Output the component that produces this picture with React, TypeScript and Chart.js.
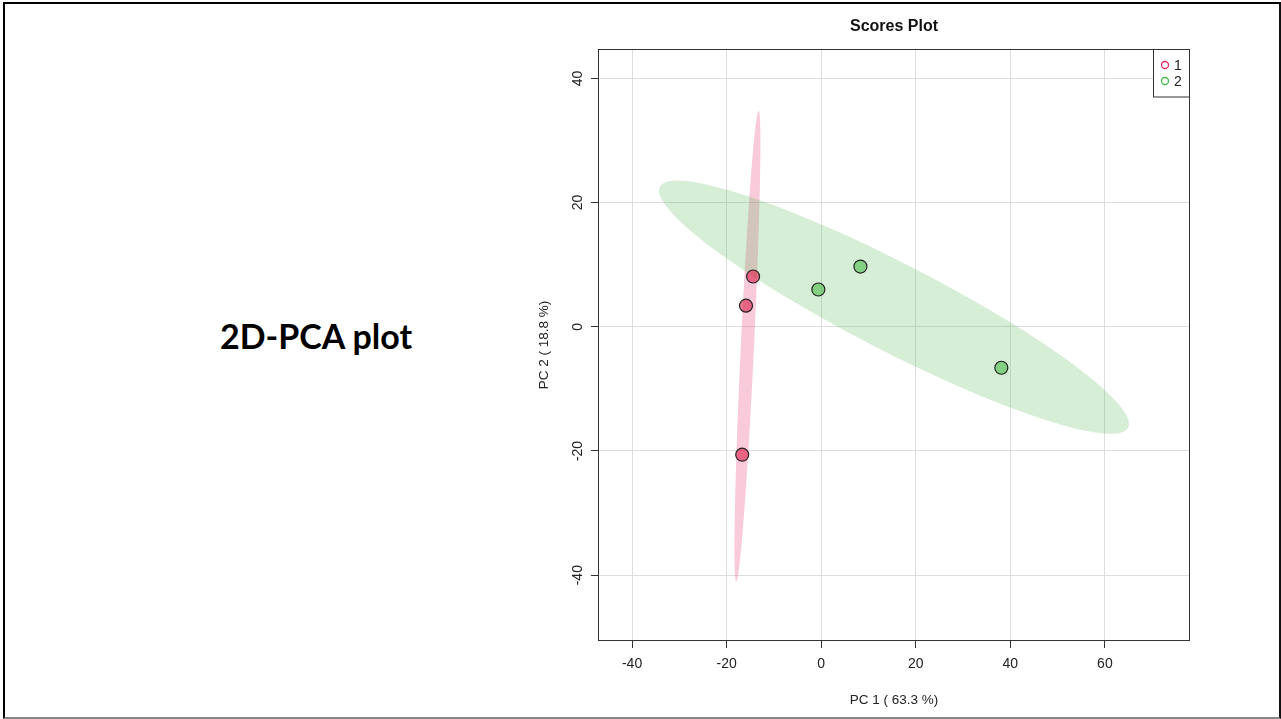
import React, { useEffect, useRef } from "react";
import { Chart, registerables } from "chart.js";

Chart.register(...registerables);

// ---- data ----
const group1Label = "1";
const group2Label = "2";
const group1X = [-14.4, -15.9, -16.7];
const group1Y = [8.1, 3.4, -20.6];
const group2X = [-0.6, 8.3, 38.1];
const group2Y = [6.0, 9.7, -6.6];

const xTicks = [-40, -20, 0, 20, 40, 60];
const yTicks = [-40, -20, 0, 20, 40];
const xRange = [-47.2, 78];
const yRange = [-50.6, 44.7];

// confidence ellipses: centre and two conjugate semi-diameters (data units)
const ellipse1Center = [-15.6, -3.1];
const ellipse1AxisA = [2.37, 37.9];
const ellipse1AxisB = [1.4, 0];
const ellipse2Center = [15.4, 3.15];
const ellipse2AxisA = [49.7, -18.8];
const ellipse2AxisB = [0, 7.9];

const chartTitle = "Scores Plot";
const xTitle = "PC 1 ( 63.3 %)";
const yTitle = "PC 2 ( 18.8 %)";
const slideTitle = "2D-PCA plot";

const FONT = "'Liberation Sans', Arial, Helvetica, sans-serif";

const ellipsePlugin = {
  id: "ellipses",
  beforeDatasetsDraw(chart: any) {
    const { ctx, chartArea } = chart;
    const xs = chart.scales.x;
    const ys = chart.scales.y;
    const list = [
      { c: ellipse1Center, a: ellipse1AxisA, b: ellipse1AxisB, color: "rgba(235,80,130,0.30)" },
      { c: ellipse2Center, a: ellipse2AxisA, b: ellipse2AxisB, color: "rgba(90,185,90,0.25)" },
    ];
    ctx.save();
    ctx.beginPath();
    ctx.rect(chartArea.left, chartArea.top, chartArea.right - chartArea.left, chartArea.bottom - chartArea.top);
    ctx.clip();
    for (const e of list) {
      const cx = xs.getPixelForValue(e.c[0]);
      const cy = ys.getPixelForValue(e.c[1]);
      const ax = xs.getPixelForValue(e.c[0] + e.a[0]) - cx;
      const ay = ys.getPixelForValue(e.c[1] + e.a[1]) - cy;
      const bx = xs.getPixelForValue(e.c[0] + e.b[0]) - cx;
      const by = ys.getPixelForValue(e.c[1] + e.b[1]) - cy;
      ctx.save();
      ctx.beginPath();
      ctx.transform(ax, ay, bx, by, cx, cy);
      ctx.arc(0, 0, 1, 0, Math.PI * 2);
      ctx.restore();
      ctx.fillStyle = e.color;
      ctx.fill();
    }
    ctx.restore();
  },
};

const boxLegendPlugin = {
  id: "boxLegend",
  afterDraw(chart: any) {
    const { ctx, chartArea } = chart;
    ctx.save();
    ctx.strokeStyle = "#333";
    ctx.lineWidth = 1;
    ctx.strokeRect(
      Math.round(chartArea.left) + 0.5,
      Math.round(chartArea.top) + 0.5,
      Math.round(chartArea.right - chartArea.left) - 1,
      Math.round(chartArea.bottom - chartArea.top) - 1
    );
    // legend box
    const r = Math.round(chartArea.right);
    const t = Math.round(chartArea.top);
    ctx.fillStyle = "#fff";
    ctx.fillRect(r - 37, t, 37, 48);
    ctx.strokeRect(r - 37 + 0.5, t + 0.5, 36, 47.5);
    const items = [
      { label: group1Label, color: "#EE2C5E", y: t + 16 },
      { label: group2Label, color: "#40BB45", y: t + 32 },
    ];
    ctx.font = `14px ${FONT}`;
    ctx.textBaseline = "middle";
    ctx.textAlign = "left";
    for (const it of items) {
      ctx.beginPath();
      ctx.arc(r - 25, it.y, 3.5, 0, Math.PI * 2);
      ctx.strokeStyle = it.color;
      ctx.lineWidth = 1.3;
      ctx.stroke();
      ctx.fillStyle = "#222";
      ctx.fillText(it.label, r - 16, it.y + 1);
    }
    ctx.restore();
  },
};

function ScoresChart() {
  const ref = useRef<HTMLCanvasElement | null>(null);
  useEffect(() => {
    if (!ref.current) return;
    Chart.defaults.font.family = FONT;
    const chart = new Chart(ref.current, {
      type: "scatter",
      data: {
        datasets: [
          {
            label: group1Label,
            data: group1X.map((x, i) => ({ x, y: group1Y[i] })),
            backgroundColor: "rgba(220,30,75,0.6)",
            borderColor: "#222",
            borderWidth: 1.2,
            pointRadius: 6.5,
          },
          {
            label: group2Label,
            data: group2X.map((x, i) => ({ x, y: group2Y[i] })),
            backgroundColor: "rgba(50,180,50,0.5)",
            borderColor: "#222",
            borderWidth: 1.2,
            pointRadius: 6.5,
          },
        ],
      },
      options: {
        animation: false,
        responsive: false,
        maintainAspectRatio: false,
        layout: { padding: { left: 0, right: 30, top: 0, bottom: 0 } },
        plugins: {
          legend: { display: false },
          tooltip: { enabled: false },
          title: {
            display: true,
            text: chartTitle,
            fullSize: false,
            color: "#111",
            font: { size: 16, weight: "bold", family: FONT },
            padding: { top: 17, bottom: 13 },
          },
        },
        scales: {
          x: {
            type: "linear",
            min: xRange[0],
            max: xRange[1],
            afterBuildTicks: (s: any) => {
              s.ticks = xTicks.map((v) => ({ value: v }));
            },
            afterFit: (s: any) => {
              s.height = 78;
            },
            grid: { color: "#dddddd", lineWidth: 1, tickColor: "#333", tickLength: 7, drawTicks: true },
            border: { display: false },
            ticks: { color: "#222", font: { size: 14, family: FONT }, padding: 8 },
            title: {
              display: true,
              text: xTitle,
              color: "#222",
              font: { size: 13.5, family: FONT },
              padding: { top: 4, bottom: 11 },
            },
          },
          y: {
            type: "linear",
            min: yRange[0],
            max: yRange[1],
            afterBuildTicks: (s: any) => {
              s.ticks = yTicks.map((v) => ({ value: v }));
            },
            afterFit: (s: any) => {
              s.width = 78;
            },
            grid: { color: "#dddddd", lineWidth: 1, tickColor: "#333", tickLength: 7, drawTicks: true },
            border: { display: false },
            ticks: {
              color: "#222",
              font: { size: 14, family: FONT },
              padding: 3,
              minRotation: 90,
              maxRotation: 90,
              crossAlign: "center",
            },
            title: {
              display: true,
              text: yTitle,
              color: "#222",
              font: { size: 13.5, family: FONT },
              padding: { top: 16, bottom: 4 },
            },
          },
        },
      },
      plugins: [ellipsePlugin, boxLegendPlugin],
    } as any);
    return () => chart.destroy();
  }, []);
  return <canvas ref={ref} width={700} height={719} style={{ display: "block", width: 700, height: 719 }} />;
}

export default function App() {
  return (
    <div style={{ position: "fixed", left: 0, top: 0, width: 1281, height: 719, background: "#fff", overflow: "hidden" }}>
      <div style={{ position: "absolute", left: 520, top: 0, width: 700, height: 719 }}>
        <ScoresChart />
      </div>
      <div
        style={{
          position: "absolute",
          left: 316,
          top: 335,
          transform: "translate(-50%, -50%)",
          fontFamily: "Lato, 'Open Sans', sans-serif",
          fontWeight: 700,
          fontSize: 34,
          color: "#000",
          whiteSpace: "nowrap",
        }}
      >
        {slideTitle}
      </div>
      <div
        style={{
          position: "absolute",
          left: 3,
          top: 2,
          width: 1278,
          height: 717,
          boxSizing: "border-box",
          borderLeft: "2px solid #000",
          borderTop: "2px solid #000",
          borderRight: "2px solid #111",
          borderBottom: "2px solid #888",
          pointerEvents: "none",
        }}
      />
    </div>
  );
}
